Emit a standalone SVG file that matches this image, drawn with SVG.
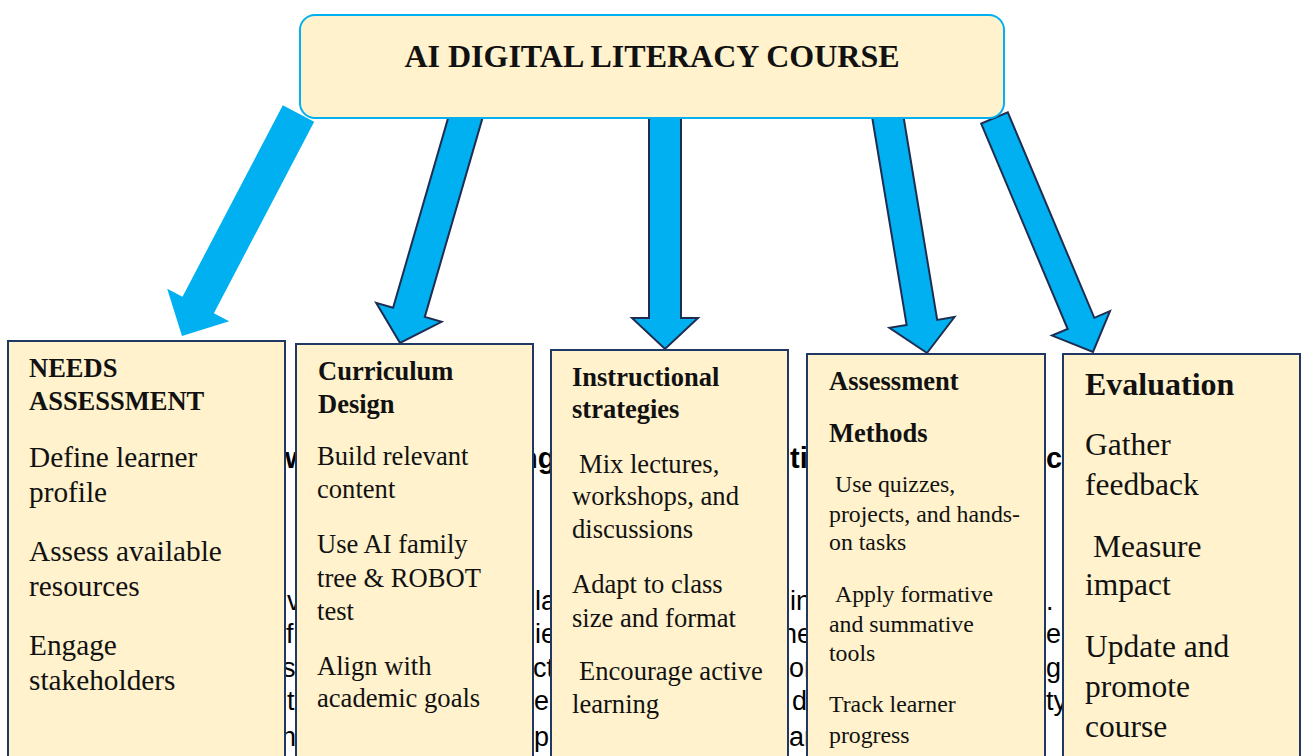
<svg xmlns="http://www.w3.org/2000/svg" width="1301" height="756" viewBox="0 0 1301 756">
  <style>
    .bg { fill: #ffffff; }
    .under { font-family: "Liberation Sans", "DejaVu Sans", sans-serif; font-size: 27px; fill: #000000; }
    .under-b { font-family: "Liberation Sans", "DejaVu Sans", sans-serif; font-size: 29px; font-weight: bold; fill: #000000; }
    .arrow { fill: #00B0F0; stroke: #1F2D50; stroke-width: 2; stroke-linejoin: miter; }
    .arrow-plain { fill: #00B0F0; stroke: none; }
    .title-box { fill: #FFF2CC; stroke: #00B0F0; stroke-width: 2; }
    .title { font-family: "Liberation Serif", "Times New Roman", serif; font-size: 32px; font-weight: bold; fill: #111111; }
    .card { fill: #FFF2CC; stroke: #203864; stroke-width: 2; }
    .head { font-family: "Liberation Serif", "Times New Roman", serif; font-size: 26.5px; font-weight: bold; fill: #111111; }
    .head-lg { font-family: "Liberation Serif", "Times New Roman", serif; font-size: 32px; font-weight: bold; fill: #111111; }
    .item { font-family: "Liberation Serif", "Times New Roman", serif; fill: #111111; }
  </style>

  <rect class="bg" x="0" y="0" width="1301" height="756"/>

  <!-- paragraph text lying beneath the cards, only visible in the gaps -->
  <g id="underlying-text">
    <text class="under-b" x="285" y="468">w</text>
    <text class="under-b" x="520" y="468">ng</text>
    <text class="under-b" x="790" y="468">ti</text>
    <text class="under-b" x="1046" y="468">cy</text>

    <text class="under" x="287" y="610">v</text>
    <text class="under" x="286" y="643">fi</text>
    <text class="under" x="282" y="677">si</text>
    <text class="under" x="287" y="710">t</text>
    <text class="under" x="281" y="746">n</text>

    <text class="under" x="535" y="610">la</text>
    <text class="under" x="535" y="643">ie</text>
    <text class="under" x="533" y="677">ct</text>
    <text class="under" x="534" y="710">er</text>
    <text class="under" x="534" y="746">pl</text>

    <text class="under" x="790" y="610">in</text>
    <text class="under" x="782" y="643">ne</text>
    <text class="under" x="789" y="677">or</text>
    <text class="under" x="792" y="710">d</text>
    <text class="under" x="789" y="746">ar</text>

    <text class="under" x="1046" y="610">.</text>
    <text class="under" x="1046" y="643">e</text>
    <text class="under" x="1046" y="677">g</text>
    <text class="under" x="1046" y="710">ty</text>
  </g>

  <!-- block arrows from the course title to each stage -->
  <g id="connectors">
    <polygon class="arrow-plain" points="282.8,105.3 182.5,296.8 167.2,288.8 182,336 229.2,321.2 213.9,313.2 314.2,121.7"/>
    <polygon class="arrow" points="451.2,107.4 393.1,307.7 376.2,302.8 400,343 441.6,321.8 424.8,316.9 482.9,116.6"/>
    <polygon class="arrow" points="649,110 649,318 632,318 665,349 698,318 681,318 681,110"/>
    <polygon class="arrow" points="871.7,114.5 906.6,324.9 889.4,327.8 927,353 954.5,317 937.2,319.9 902.3,109.5"/>
    <polygon class="arrow" points="981.2,123.6 1067.7,329 1052,335.6 1093,352 1110,311.2 1094.3,317.8 1007.8,112.4"/>
  </g>

  <g id="course">
    <rect class="title-box" x="300" y="15" width="704" height="103" rx="15" ry="15"/>
    <text class="title" x="652" y="67" text-anchor="middle">AI DIGITAL LITERACY COURSE</text>
  </g>

  <g id="needs-assessment">
    <rect class="card" x="8" y="341" width="277" height="430"/>
    <text class="head" x="29" y="377">NEEDS</text>
    <text class="head" x="29" y="410">ASSESSMENT</text>
    <g class="item" font-size="29.3">
      <text x="29" y="467">Define learner</text>
      <text x="29" y="502">profile</text>
      <text x="29" y="561">Assess available</text>
      <text x="29" y="596">resources</text>
      <text x="29" y="655">Engage</text>
      <text x="29" y="690">stakeholders</text>
    </g>
  </g>

  <g id="curriculum-design">
    <rect class="card" x="296" y="344" width="237" height="430"/>
    <text class="head" x="318" y="380">Curriculum</text>
    <text class="head" x="318" y="413">Design</text>
    <g class="item" font-size="26.6">
      <text x="317" y="465">Build relevant</text>
      <text x="317" y="498">content</text>
      <text x="317" y="553">Use AI family</text>
      <text x="317" y="587">tree &amp; ROBOT</text>
      <text x="317" y="620">test</text>
      <text x="317" y="675">Align with</text>
      <text x="317" y="707">academic goals</text>
    </g>
  </g>

  <g id="instructional-strategies">
    <rect class="card" x="551" y="350" width="237" height="430"/>
    <text class="head" x="572" y="386">Instructional</text>
    <text class="head" x="572" y="418">strategies</text>
    <g class="item" font-size="26.6">
      <text x="579" y="473">Mix lectures,</text>
      <text x="572" y="505">workshops, and</text>
      <text x="572" y="538">discussions</text>
      <text x="572" y="593">Adapt to class</text>
      <text x="572" y="627">size and format</text>
      <text x="579" y="680">Encourage active</text>
      <text x="572" y="713">learning</text>
    </g>
  </g>

  <g id="assessment-methods">
    <rect class="card" x="807" y="354" width="238" height="430"/>
    <text class="head" x="829" y="390">Assessment</text>
    <text class="head" x="829" y="442">Methods</text>
    <g class="item" font-size="23.8">
      <text x="835" y="492">Use quizzes,</text>
      <text x="829" y="522">projects, and hands-</text>
      <text x="829" y="550">on tasks</text>
      <text x="835" y="602">Apply formative</text>
      <text x="829" y="632">and summative</text>
      <text x="829" y="661">tools</text>
      <text x="829" y="712">Track learner</text>
      <text x="829" y="743">progress</text>
    </g>
  </g>

  <g id="evaluation">
    <rect class="card" x="1063" y="354" width="237" height="430"/>
    <text class="head-lg" x="1085" y="395">Evaluation</text>
    <g class="item" font-size="31.5">
      <text x="1085" y="455">Gather</text>
      <text x="1085" y="495">feedback</text>
      <text x="1093" y="557">Measure</text>
      <text x="1085" y="595">impact</text>
      <text x="1085" y="657">Update and</text>
      <text x="1085" y="697">promote</text>
      <text x="1085" y="737">course</text>
    </g>
  </g>
</svg>
